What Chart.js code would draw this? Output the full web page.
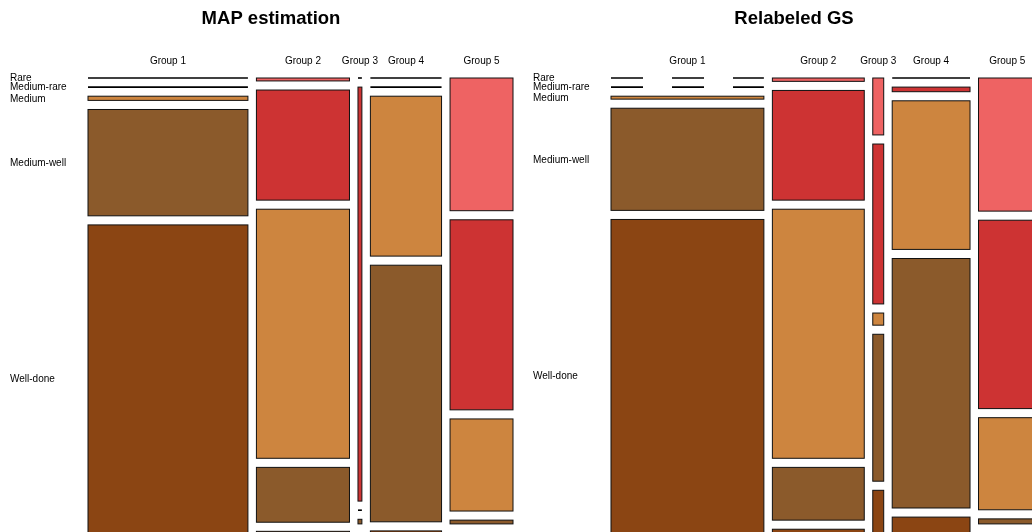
<!DOCTYPE html>
<html>
<head>
<meta charset="utf-8">
<script src="https://cdn.jsdelivr.net/npm/chart.js@4"></script>
<style>
    html, body { margin: 0; padding: 0; background: #fff; overflow: hidden; width: 1032px; height: 532px; position: relative; }
    canvas { position: absolute; top: 0; }
    #mapChart { left: 0; }
    #gsChart { left: 523px; }
</style>
</head>
<body>
<canvas id="mapChart" width="542" height="545"></canvas>
<canvas id="gsChart" width="542" height="545"></canvas>
<script>
const groups = ["Group 1", "Group 2", "Group 3", "Group 4", "Group 5"];
const doneness = ["Rare", "Medium-rare", "Medium", "Medium-well", "Well-done"];
const colors = ["#EE6363", "#CD3333", "#CD853F", "#8B5A2B", "#8B4513"];

// share of people in each group (%)
const mapGroupShare = [40.9, 23.8, 1.0, 18.2, 16.1];
const gsGroupShare = [39.1, 23.5, 2.8, 19.9, 14.7];

// doneness mix inside each group (%), one array per doneness level
const mapRare = [0, 0.7, 0, 0, 31.7];
const mapMediumRare = [0, 26.3, 98.9, 0, 45.4];
const mapMedium = [1.0, 59.5, 0, 38.2, 22.0];
const mapMediumWell = [25.4, 13.1, 1.1, 61.3, 0.9];
const mapWellDone = [73.6, 0.4, 0, 0.5, 0];

const gsRare = [0, 0.8, 13.6, 0, 31.8];
const gsMediumRare = [0, 26.2, 38.2, 1.1, 45.0];
const gsMedium = [0.7, 59.5, 2.9, 35.5, 22.0];
const gsMediumWell = [24.4, 12.6, 35.1, 59.6, 1.2];
const gsWellDone = [74.9, 0.9, 10.2, 3.8, 0];

const GAP = 0.02;
// mosaic occupies x 88..513 of a 542px wide panel
const PLOT_LEFT = 88, PLOT_RIGHT = 513, PANEL_W = 542;
const plotW = PLOT_RIGHT - PLOT_LEFT;

function layout(groupShare, series) {
    const cells = [];
    const xSpan = 1 - GAP * (groupShare.length - 1);
    const ySpan = 1 - GAP * (series.length - 1);
    let x = 0;
    groupShare.forEach((share, g) => {
        const w = share / 100 * xSpan;
        let y = 0;
        series.forEach((vals, c) => {
            const h = vals[g] / 100 * ySpan;
            cells.push({ g, c, x0: x, x1: x + w, y0: y, y1: y + h, zero: vals[g] === 0 });
            y += h + GAP;
        });
        x += w + GAP;
    });
    return cells;
}

const mosaicPlugin = {
    id: "mosaic",
    afterDatasetsDraw(chart, args, opts) {
        const { ctx, chartArea } = chart;
        const xs = chart.scales.x, ys = chart.scales.y;
        const cells = layout(opts.groupShare, opts.series);
        ctx.save();
        cells.forEach(cell => {
            const left = xs.getPixelForValue(cell.x0);
            const right = xs.getPixelForValue(cell.x1);
            const top = ys.getPixelForValue(cell.y0);
            const bottom = ys.getPixelForValue(cell.y1);
            if (cell.zero) {
                ctx.strokeStyle = "#000";
                ctx.lineWidth = 1.6;
                ctx.setLineDash(opts.dashedGroups.includes(cell.g) ? [32, 29] : []);
                ctx.beginPath();
                ctx.moveTo(left, top);
                ctx.lineTo(right, top);
                ctx.stroke();
                ctx.setLineDash([]);
            } else {
                ctx.fillStyle = colors[cell.c];
                ctx.fillRect(left, top, right - left, bottom - top);
                ctx.strokeStyle = "#111";
                ctx.lineWidth = 1;
                ctx.strokeRect(left, top, right - left, bottom - top);
            }
        });

        ctx.fillStyle = "#000";
        ctx.font = '10px "Liberation Sans", Arial, sans-serif';
        ctx.textBaseline = "middle";
        ctx.textAlign = "center";
        groups.forEach((name, g) => {
            const cell = cells.find(k => k.g === g);
            const cx = (xs.getPixelForValue(cell.x0) + xs.getPixelForValue(cell.x1)) / 2;
            ctx.fillText(name, cx, chartArea.top - 17);
        });

        // row labels follow the first column
        ctx.textAlign = "left";
        doneness.forEach((name, c) => {
            const cell = cells.find(k => k.g === 0 && k.c === c);
            const cy = (ys.getPixelForValue(cell.y0) + ys.getPixelForValue(cell.y1)) / 2;
            ctx.fillText(name, 10, cy + 0.5);
        });
        ctx.restore();
    }
};

function makeChart(id, title, groupShare, series, dashedGroups) {
    return new Chart(document.getElementById(id), {
        type: "scatter",
        data: { datasets: [] },
        plugins: [mosaicPlugin],
        options: {
            responsive: false,
            animation: false,
            layout: { padding: { left: 0, right: 0, top: 0, bottom: 12 } },
            scales: {
                x: { type: "linear", min: -PLOT_LEFT / plotW, max: 1 + (PANEL_W - PLOT_RIGHT) / plotW, display: false },
                y: { type: "linear", min: 0, max: 1, reverse: true, display: false }
            },
            plugins: {
                legend: { display: false },
                tooltip: { enabled: false },
                title: {
                    display: true,
                    text: title,
                    color: "#000",
                    font: { family: '"Liberation Sans", Arial, sans-serif', size: 18.5, weight: "bold" },
                    padding: { top: 7.4, bottom: 48.4 }
                },
                mosaic: { groupShare, series, dashedGroups }
            }
        }
    });
}

makeChart("mapChart", "MAP estimation", mapGroupShare,
    [mapRare, mapMediumRare, mapMedium, mapMediumWell, mapWellDone], []);
makeChart("gsChart", "Relabeled GS", gsGroupShare,
    [gsRare, gsMediumRare, gsMedium, gsMediumWell, gsWellDone], [0]);
</script>
</body>
</html>
